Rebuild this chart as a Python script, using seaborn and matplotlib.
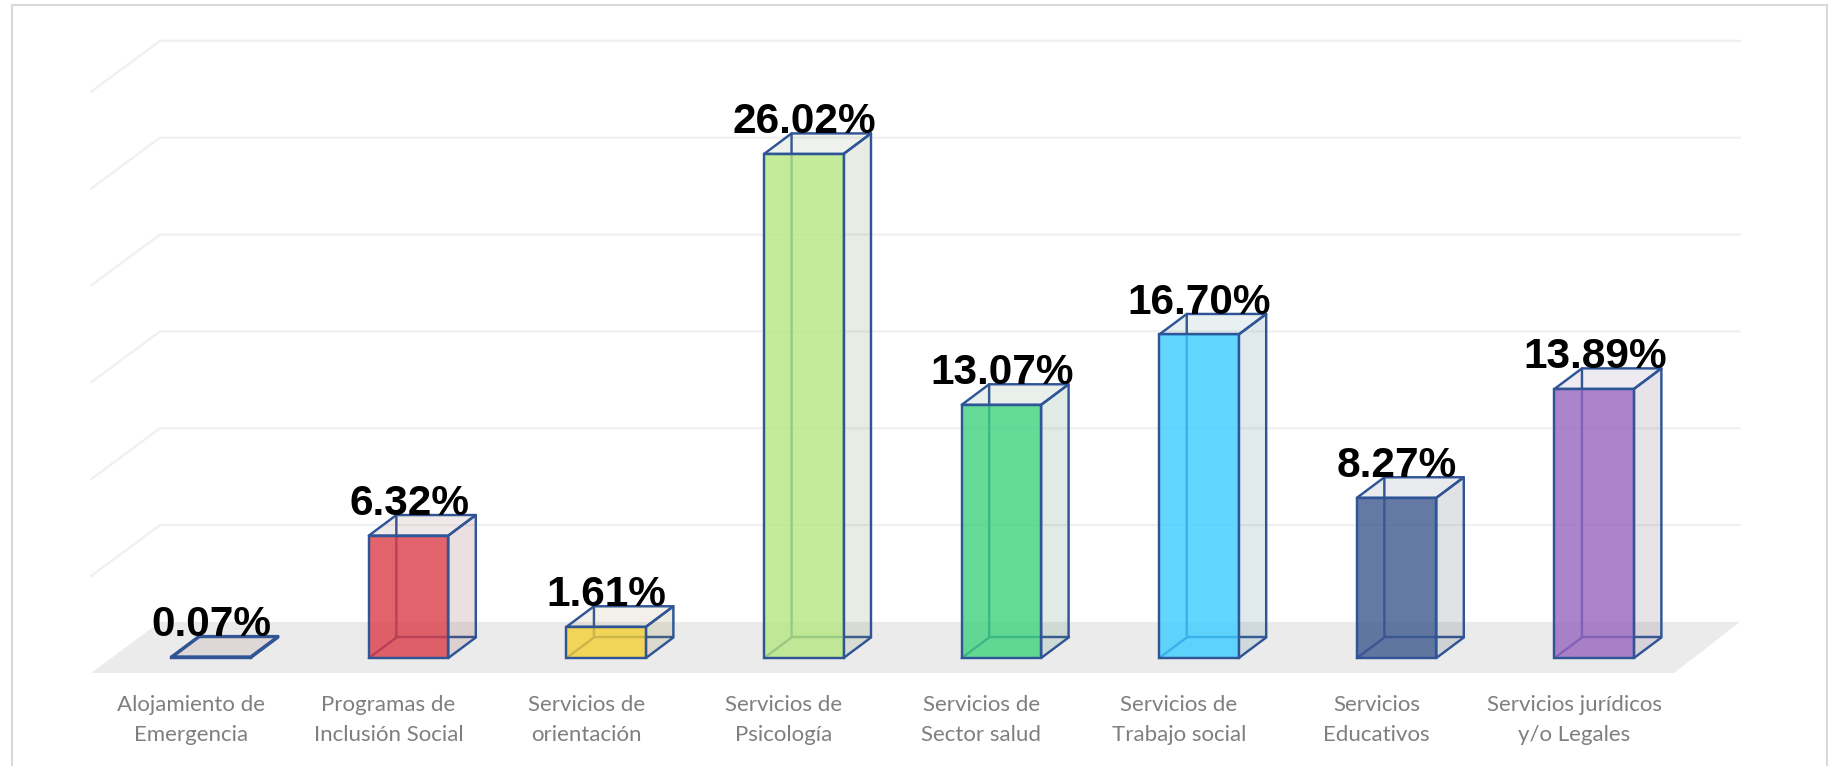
import matplotlib
matplotlib.use("Agg")
import matplotlib.pyplot as plt
from matplotlib.colors import to_rgba
from matplotlib.patches import Polygon, Rectangle
from matplotlib.transforms import ScaledTranslation
import numpy as np
import pandas as pd
import seaborn as sns

categories = ["Alojamiento de\nEmergencia", "Programas de\nInclusión Social", "Servicios de\norientación",
              "Servicios de\nPsicología", "Servicios de\nSector salud", "Servicios de\nTrabajo social",
              "Servicios\nEducativos", "Servicios jurídicos\ny/o Legales"]
values = [0.07, 6.32, 1.61, 26.02, 13.07, 16.70, 8.27, 13.89]
value_labels = ["0.07%", "6.32%", "1.61%", "26.02%", "13.07%", "16.70%", "8.27%", "13.89%"]
bar_colors = ["#C04040", "#DB3C46", "#F4CF34", "#B6E780", "#40D27F", "#3BCCFF", "#3E588F", "#9866BF"]
grid_values = [0, 5, 10, 15, 20, 25, 30]

EDGE = "#2F5597"
LW = 1.75
FACE_ALPHA = 0.8
W = 0.402          # bar width, in category units
DX, DY = 0.139, 1.06   # depth of a bar
FLOOR_Y0, FLOOR_Y1 = -0.774, 1.86
LEFT_FRONT, LEFT_BACK = -0.6073, -0.258
RIGHT_FRONT, RIGHT_BACK = 7.404, 7.738

sns.set_theme(style="white")
fig = plt.figure(figsize=(18.29, 7.66), dpi=100, facecolor="white")
ax = fig.add_axes([91 / 1829, (766 - 673) / 766, (1743 - 91) / 1829, (673 - 41) / 766])
ax.patch.set_alpha(0)

df = pd.DataFrame({"categoria": categories, "valor": values})
sns.barplot(data=df, x="categoria", y="valor", hue="categoria", palette=bar_colors, saturation=1,
            width=W, legend=False, ax=ax, zorder=6, edgecolor=EDGE, linewidth=LW, dodge=False)

ax.set_xlim(LEFT_FRONT, RIGHT_BACK + 0.015)
ax.set_ylim(FLOOR_Y0, 31.85)

# floor and back wall
ax.add_patch(Polygon([(LEFT_FRONT, FLOOR_Y0), (RIGHT_FRONT, FLOOR_Y0), (RIGHT_BACK, FLOOR_Y1), (LEFT_BACK, FLOOR_Y1)],
                     closed=True, facecolor="#EBEBEB", edgecolor="none", zorder=1))
for g in grid_values[1:]:
    y = FLOOR_Y1 + g
    ax.plot([LEFT_FRONT, LEFT_BACK, RIGHT_BACK], [FLOOR_Y0 + g, y, y], color="#F0F0F0", lw=1.6,
            clip_on=False, zorder=2, solid_joinstyle="miter")

# 3D faces of each bar
patches = list(ax.patches)
bars = [p for p in patches if isinstance(p, Rectangle)]
for i, (v, c, lab) in enumerate(zip(values, bar_colors, value_labels)):
    bar = bars[i]
    rgb = np.array(to_rgba(c)[:3])
    side = tuple(rgb * 0.4 + 0.2)
    x0 = i - W / 2
    x1 = i + W / 2
    bar.set_facecolor(to_rgba(c, FACE_ALPHA))
    bar.set_edgecolor(EDGE)
    ax.add_patch(Polygon([(x1, 0), (x1 + DX, DY), (x1 + DX, v + DY), (x1, v)], closed=True,
                         facecolor=to_rgba(side, 0.17), edgecolor=EDGE, lw=LW, zorder=5, joinstyle="round"))
    ax.add_patch(Polygon([(x0, v), (x0 + DX, v + DY), (x1 + DX, v + DY), (x1, v)], closed=True,
                         facecolor=to_rgba(side, 0.12), edgecolor=EDGE, lw=LW, zorder=5, joinstyle="round"))
    ax.plot([x0, x0 + DX, x0 + DX], [0, DY, v + DY], color=EDGE, lw=LW, zorder=4)
    ax.plot([x0 + DX, x1 + DX], [DY, DY], color=EDGE, lw=LW, zorder=4)
    ax.text(i + 0.003, v + DY, lab, ha="center", va="baseline", fontsize=30.5, fontweight="bold",
            family="Liberation Sans", color="black", zorder=10)

# axes text
ax.set_xlabel("")
ax.set_ylabel("")
ax.set_yticks([])
ax.set_xticks(range(len(categories)))
ax.set_xticklabels(categories, family="Lato", fontsize=16, color="#7F7F7F", linespacing=1.65)
ax.tick_params(axis="x", length=0, pad=15.5)
offset = ScaledTranslation(-20 / 100, 0, fig.dpi_scale_trans)
for t in ax.get_xticklabels():
    t.set_transform(t.get_transform() + offset)
sns.despine(ax=ax, left=True, bottom=True)

# chart frame
fig.add_artist(Rectangle((12 / 1829, -0.02), (1827 - 12) / 1829, 1.02 - 5 / 766, transform=fig.transFigure,
                         facecolor="none", edgecolor="#D9D9D9", lw=1.5))

fig.savefig("out.png", dpi=100)
